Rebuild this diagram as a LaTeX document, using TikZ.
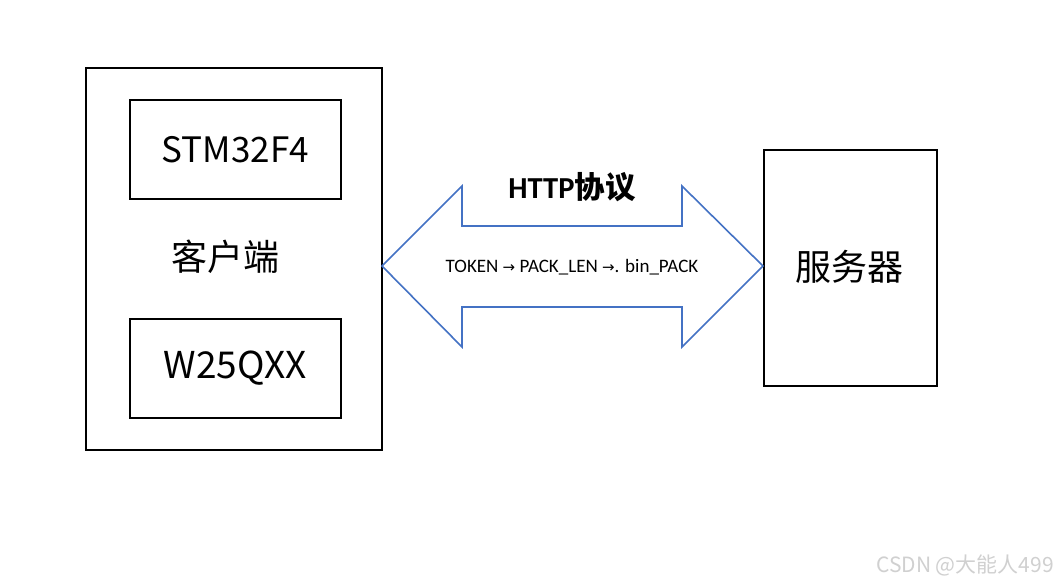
\documentclass[tikz,border=0pt]{standalone}
\usepackage{fontspec}
\setmainfont{Noto Sans CJK SC}
\newfontfamily\cjk{Noto Sans CJK SC}
\newfontfamily\cali{Carlito}
\newfontfamily\arr{DejaVu Sans}
\definecolor{arrowblue}{HTML}{4472C4}
\definecolor{wm}{HTML}{D0D0D0}
\begin{document}
\begin{tikzpicture}[x=1pt,y=-1pt,
  box/.style={draw=black,line width=1.6pt},
  lbl/.style={inner sep=0pt,anchor=center},
]
\useasboundingbox (0,0) rectangle (1058,582);
\fill[white] (0,0) rectangle (1058,582);
% client outer box
\draw[box] (86,68) rectangle (382,450);
\node[box,minimum width=211pt,minimum height=99pt,inner sep=0pt,anchor=north west,font=\cjk\fontsize{35}{40}\selectfont] (stm) at (129,99) {STM32F4};
\node[box,minimum width=211pt,minimum height=99pt,inner sep=0pt,anchor=north west,font=\cjk\fontsize{37}{40}\selectfont] (w25) at (129,318) {W25QXX};
\node[lbl,font=\cjk\fontsize{36}{40}\selectfont] (client) at (225,257) {客户端};
% server
\node[box,minimum width=173pt,minimum height=236pt,inner sep=0pt,anchor=north west] (srv) at (763,149) {};
\node[lbl,font=\cjk\fontsize{36}{40}\selectfont] (srvt) at (849,267) {服务器};
% double arrow
\draw[arrowblue,line width=1.6pt,line join=miter]
  (382,266) -- (462,186) -- (462,226) -- (682,226) -- (682,186) -- (763,266)
  -- (682,347) -- (682,307) -- (462,307) -- (462,347) -- cycle;
\node[lbl,font=\cali\bfseries\fontsize{30.5}{33}\selectfont] (http) at (572,187) {HTTP{\cjk\bfseries 协议}};
\node[lbl,font=\cali\fontsize{19}{22}\selectfont] (tok) at (572,267) {TOKEN {\arr\fontsize{15}{18}\selectfont →} PACK\_LEN {\arr\fontsize{15}{18}\selectfont →}. bin\_PACK};
% watermark
\node[lbl,anchor=east,text=wm,font=\cjk\fontsize{21}{24}\selectfont] (wmk) at (1054,565) {CSDN @大能人499};
\end{tikzpicture}
\end{document}
